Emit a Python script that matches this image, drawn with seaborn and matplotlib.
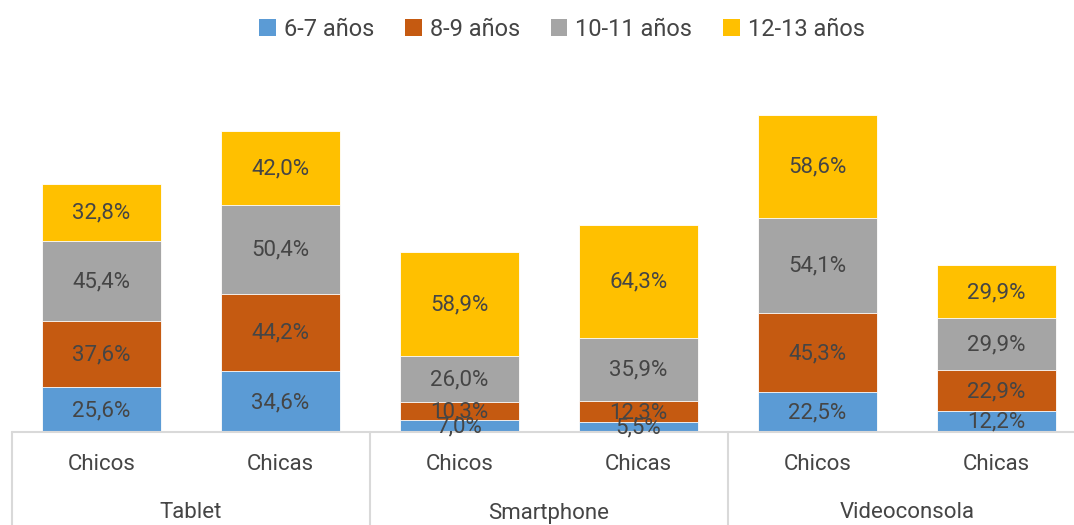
import numpy as np
import pandas as pd
import matplotlib
matplotlib.use("Agg")
import matplotlib.pyplot as plt
import matplotlib.transforms as mtransforms
from matplotlib.patches import Patch
from matplotlib.lines import Line2D
import seaborn as sns

groups = ["Tablet", "Smartphone", "Videoconsola"]
sexes = ["Chicos", "Chicas"]
series = ["6-7 años", "8-9 años", "10-11 años", "12-13 años"]
v_6_7 = [25.6, 34.6, 7.0, 5.5, 22.5, 12.2]
v_8_9 = [37.6, 44.2, 10.3, 12.3, 45.3, 22.9]
v_10_11 = [45.4, 50.4, 26.0, 35.9, 54.1, 29.9]
v_12_13 = [32.8, 42.0, 58.9, 64.3, 58.6, 29.9]
colors = ["#5B9BD5", "#C55A11", "#A5A5A5", "#FFC000"]

sns.set_theme(style="white")
plt.rcParams["font.family"] = ["Roboto", "DejaVu Sans"]
TXT = "#454545"
FW = "normal"
FS = 16

cats = [f"{g}\n{s}" for g in groups for s in sexes]
vals = np.array([v_6_7, v_8_9, v_10_11, v_12_13])
cum = np.cumsum(vals, axis=0)

fig = plt.figure(figsize=(10.74, 5.25), dpi=100)
W, H = 1074, 525
ax = fig.add_axes([12 / W, 93 / H, 1074 / W, 351.4 / H])

for i in range(3, -1, -1):
    df = pd.DataFrame({"cat": cats, "val": cum[i]})
    sns.barplot(data=df, x="cat", y="val", color=colors[i], width=0.67,
                saturation=1, ax=ax, edgecolor="white", linewidth=0.6,
                order=cats)

for i in range(4):
    for j in range(6):
        y = cum[i, j] - vals[i, j] / 2
        ax.text(j, y - 0.6, f"{vals[i, j]:.1f}%".replace(".", ","), ha="center",
                va="center", fontsize=FS, color=TXT, fontweight=FW)

ax.set_xlim(-0.5, 5.5)
ax.set_ylim(0, 200)
ax.set_xticks([])
ax.set_yticks([])
ax.set_xlabel("")
ax.set_ylabel("")
for s in ax.spines.values():
    s.set_visible(False)

trans = mtransforms.blended_transform_factory(ax.transData, ax.transAxes)
ax.axhline(0, color="#D9D9D9", lw=1.5, clip_on=False, xmin=0, xmax=1)
sep_y0 = -93 / 351.4
for x in [-0.5, 1.5, 3.5, 5.5]:
    ax.add_line(Line2D([x, x], [0, sep_y0], transform=trans, color="#D9D9D9",
                       lw=1.5, clip_on=False))
for j, c in enumerate(cats):
    ax.text(j, -33 / 351.4, c.split("\n")[1], transform=trans, ha="center",
            va="center", fontsize=FS, color=TXT, fontweight=FW)
for g_i, g in enumerate(groups):
    ax.text(2 * g_i + 0.5, -81 / 351.4, g, transform=trans, ha="center",
            va="center", fontsize=FS, color=TXT, fontweight=FW)

handles = [Patch(facecolor=c, edgecolor="none") for c in colors]
fig.legend(handles, series, loc="center", bbox_to_anchor=(562 / W, 1 - 29 / H),
           ncol=4, frameon=False, labelcolor=TXT,
           prop=dict(family=["Roboto", "DejaVu Sans"], size=17, weight=FW),
           handlelength=0.7, handleheight=0.7, handletextpad=0.35,
           columnspacing=1.3)

fig.savefig("out.png", dpi=100)
